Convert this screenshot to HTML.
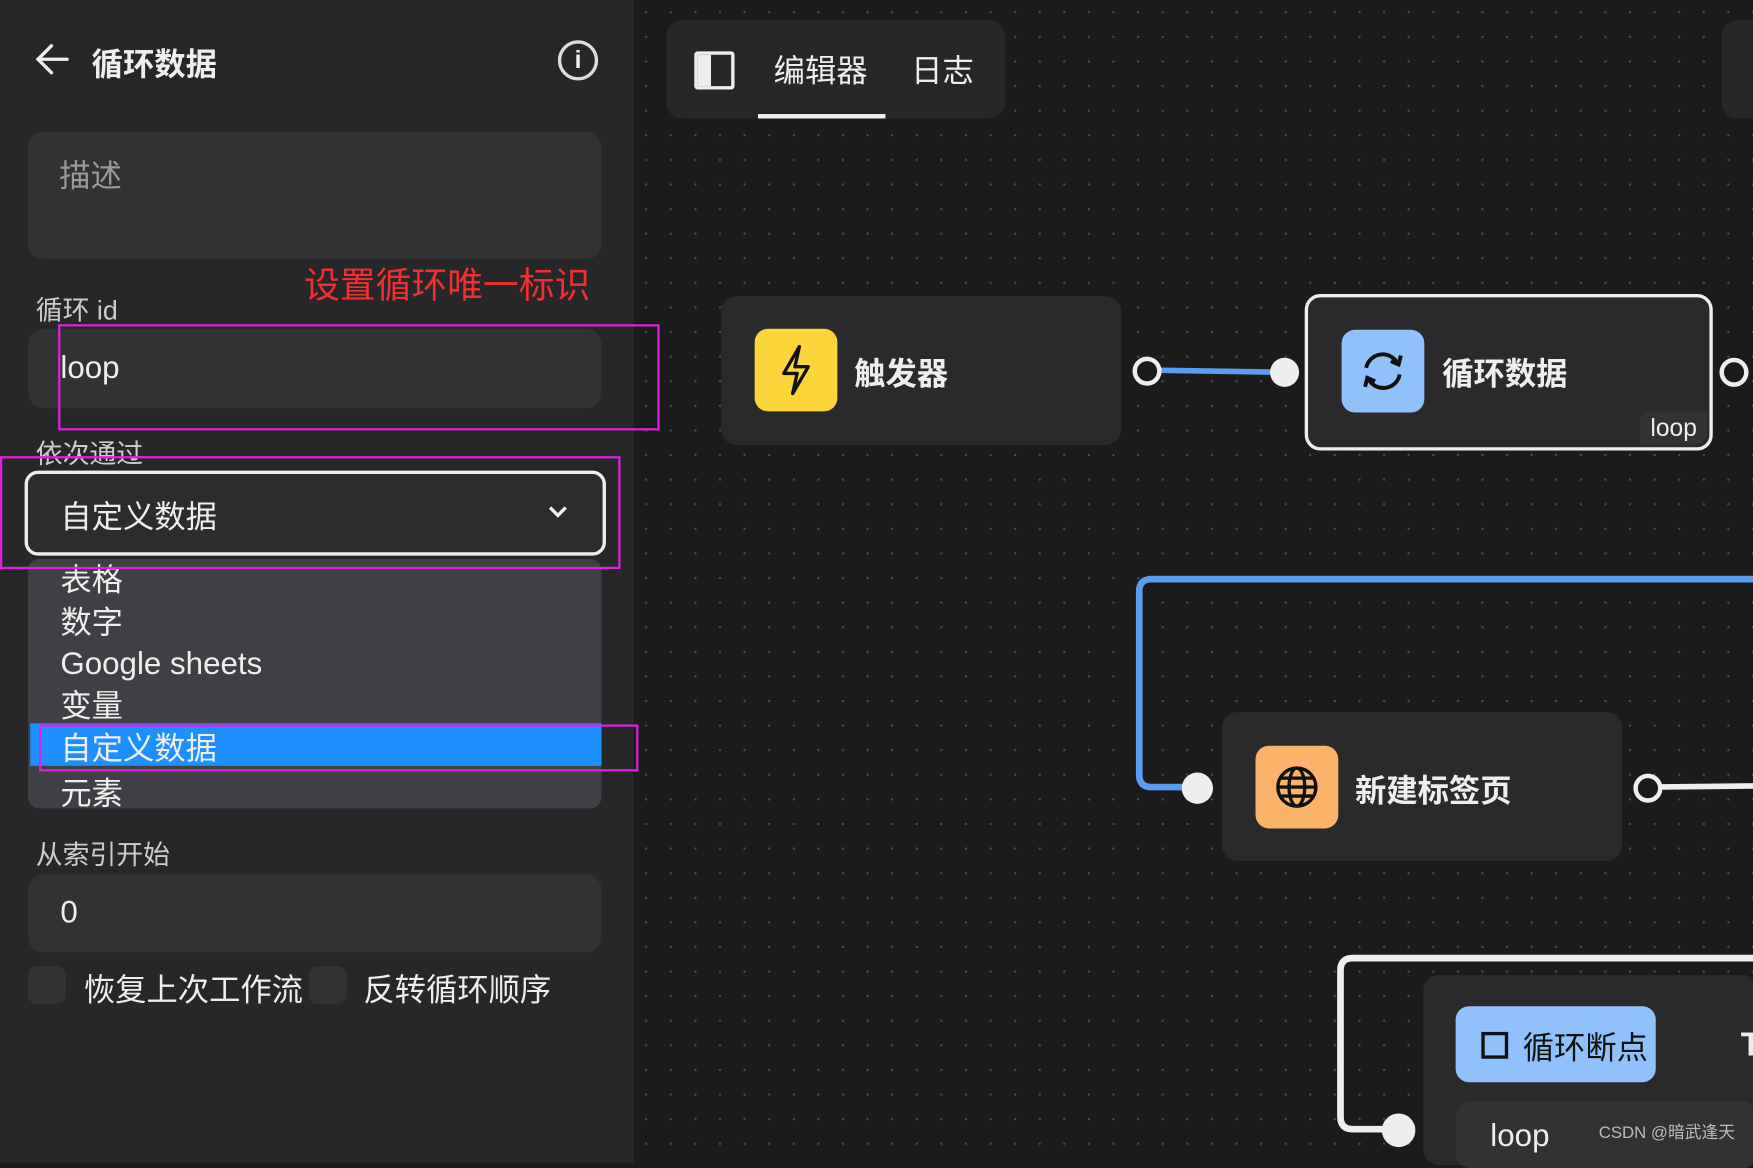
<!DOCTYPE html>
<html><head><meta charset="utf-8"><style>
html,body{margin:0;padding:0;background:#1b1b1d;overflow:hidden;width:1753px;height:1150px}
#s{position:absolute;left:0;top:0;width:1568px;height:1040px;transform:scale(1.118);transform-origin:0 0;font-family:"Liberation Sans","Noto Sans CJK SC",sans-serif;color:#eee}
.a{position:absolute}
#canvas{left:567px;top:0;width:1001px;height:1040px;background-color:#1b1b1d;background-image:radial-gradient(#4a4a4e 1px,transparent 1.2px);background-size:22px 22px}
#panel{left:0;top:0;width:567px;height:1040px;background:#27272a}
.inp{background:#323235;border-radius:14px}
.node{background:#2a2a2d;border-radius:14px}
.ic{border-radius:12px}
.dot{width:22px;height:22px;border-radius:50%;background:#eee}
.odot{width:18px;height:18px;border-radius:50%;background:#1b1b1d;border:4px solid #eee}
.pk{border:2px solid #e020e0}
</style></head><body><div id="s">
<div id="canvas" class="a"></div>
<div id="panel" class="a">
 <svg class="a" style="left:30px;top:38px" width="34" height="30"><path d="M30 15 H5 M16 3 L4 15 L16 27" stroke="#eee" stroke-width="3" fill="none" stroke-linecap="round"/></svg>
 <div class="a" style="left:82px;top:36px;font-size:28px;font-weight:bold">循环数据</div>
 <div class="a" style="left:499px;top:36px;width:30px;height:30px;border:3px solid #ddd;border-radius:50%;text-align:center;font-size:22px;line-height:30px;font-weight:bold">i</div>
 <div class="a inp" style="left:25px;top:118px;width:513px;height:114px"></div>
 <div class="a" style="left:53px;top:136px;font-size:28px;color:#999">描述</div>
 <div class="a" style="left:272px;top:230px;font-size:32px;color:#f03030">设置循环唯一标识</div>
 <div class="a" style="left:32px;top:258px;font-size:24px;color:#ccc">循环 id</div>
 <div class="a inp" style="left:25px;top:294px;width:513px;height:71px"></div>
 <div class="a" style="left:54px;top:313px;font-size:28px">loop</div>
 <div class="a" style="left:32px;top:386px;font-size:24px;color:#ccc">依次通过</div>
 <div class="a" style="left:25px;top:500px;width:513px;height:223px;background:#3f3f44;border-radius:10px"></div>
 <div class="a" style="left:22px;top:421px;width:514px;height:70px;background:#2c2c2f;border:3px solid #eee;border-radius:12px"></div>
 <div class="a" style="left:54px;top:441px;font-size:28px">自定义数据</div>
 <svg class="a" style="left:489px;top:451px" width="20" height="14"><path d="M3 3 L10 10 L17 3" stroke="#eee" stroke-width="3" fill="none"/></svg>
 <div class="a" style="left:54px;top:500px;font-size:28px;line-height:37.5px">表格<br>数字<br>Google sheets<br>变量</div>
 <div class="a" style="left:27px;top:647px;width:511px;height:38px;background:#1e8fff"></div>
 <div class="a" style="left:54px;top:648px;font-size:28px">自定义数据</div>
 <div class="a" style="left:54px;top:688px;font-size:28px">元素</div>
 <div class="a" style="left:32px;top:745px;font-size:24px;color:#ccc">从索引开始</div>
 <div class="a inp" style="left:25px;top:782px;width:513px;height:70px"></div>
 <div class="a" style="left:54px;top:800px;font-size:28px">0</div>
 <div class="a" style="left:25px;top:864px;width:34px;height:34px;background:#323235;border-radius:8px"></div>
 <div class="a" style="left:75px;top:864px;font-size:28px">恢复上次工作流</div>
 <div class="a" style="left:276px;top:864px;width:34px;height:34px;background:#323235;border-radius:8px"></div>
 <div class="a" style="left:325px;top:864px;font-size:28px">反转循环顺序</div>
</div>
<div class="a pk" style="left:52px;top:290px;width:534px;height:91px"></div>
<div class="a pk" style="left:0;top:408px;width:551px;height:97px"></div>
<div class="a pk" style="left:35px;top:648px;width:532px;height:38px"></div>
<div class="a" style="left:596px;top:18px;width:303px;height:88px;background:#27272a;border-radius:14px"></div>
<div class="a" style="left:621px;top:46px;width:30px;height:28px;border:3px solid #eee;border-radius:3px;background:linear-gradient(90deg,#eee 40%,transparent 40%)"></div>
<div class="a" style="left:692px;top:42px;font-size:28px">编辑器</div>
<div class="a" style="left:678px;top:102px;width:114px;height:4px;background:#eee"></div>
<div class="a" style="left:815px;top:42px;font-size:28px">日志</div>
<div class="a" style="left:1540px;top:18px;width:40px;height:88px;background:#27272a;border-radius:14px"></div>
<svg class="a" style="left:0;top:0" width="1568" height="1040">
 <path d="M1026 331 L1148 333" stroke="#5a9cf0" stroke-width="5" fill="none"/>
 <path d="M1070 704 L1030 704 Q1019 704 1019 693 L1019 529 Q1019 518 1030 518 L1568 518" stroke="#5a9cf0" stroke-width="6" fill="none"/>
 <path d="M1474 704 L1568 703" stroke="#eee" stroke-width="5" fill="none"/>
 <path d="M1250 1010 L1210 1010 Q1199 1010 1199 999 L1199 868 Q1199 857 1210 857 L1568 857" stroke="#eee" stroke-width="6" fill="none"/>
</svg>
<div class="a node" style="left:645px;top:265px;width:358px;height:133px"></div>
<div class="a ic" style="left:675px;top:294px;width:74px;height:74px;background:#fbd53a"></div>
<svg class="a" style="left:675px;top:294px" width="74" height="74"><path d="M40 16 L26 40 H38 L34 58 L48 34 H36 Z" stroke="#111" stroke-width="3" fill="none" stroke-linejoin="round"/></svg>
<div class="a" style="left:764px;top:313px;font-size:28px;font-weight:bold">触发器</div>
<div class="a odot" style="left:1013px;top:319px"></div>
<div class="a dot" style="left:1136px;top:320px;width:26px;height:26px"></div>
<div class="a" style="left:1167px;top:263px;width:359px;height:134px;background:#2a2a2d;border:3px solid #eee;border-radius:14px"></div>
<div class="a ic" style="left:1200px;top:295px;width:74px;height:74px;background:#8fc1fb"></div>
<svg class="a" style="left:1200px;top:295px" width="74" height="74"><path d="M22 34 A15 15 0 0 1 50 30 M52 40 A15 15 0 0 1 24 44" stroke="#111" stroke-width="3.5" fill="none"/><path d="M44 28 L51 31 L53 23 M30 46 L23 43 L21 51" stroke="#111" stroke-width="3.5" fill="none"/></svg>
<div class="a" style="left:1290px;top:313px;font-size:28px;font-weight:bold">循环数据</div>
<div class="a" style="left:1467px;top:368px;width:60px;height:30px;background:#323235;border-radius:8px 0 12px 0;font-size:22px;text-align:center;line-height:30px">loop</div>
<div class="a odot" style="left:1538px;top:320px"></div>
<div class="a node" style="left:1093px;top:637px;width:358px;height:133px"></div>
<div class="a ic" style="left:1123px;top:667px;width:74px;height:74px;background:#fbb36a"></div>
<svg class="a" style="left:1123px;top:667px" width="74" height="74"><g stroke="#111" stroke-width="3" fill="none"><circle cx="37" cy="37" r="17"/><ellipse cx="37" cy="37" rx="7" ry="17"/><path d="M20 37 H54 M23 29 H51 M23 45 H51"/></g></svg>
<div class="a" style="left:1212px;top:686px;font-size:28px;font-weight:bold">新建标签页</div>
<div class="a dot" style="left:1057px;top:691px;width:28px;height:28px"></div>
<div class="a odot" style="left:1461px;top:692px"></div>
<div class="a node" style="left:1273px;top:872px;width:300px;height:170px"></div>
<div class="a ic" style="left:1302px;top:900px;width:179px;height:68px;background:#8fc1fb"></div>
<div class="a" style="left:1325px;top:923px;width:18px;height:18px;border:3px solid #111"></div>
<div class="a" style="left:1362px;top:916px;font-size:28px;color:#111">循环断点</div>
<div class="a" style="left:1302px;top:985px;width:270px;height:60px;background:#323235;border-radius:14px"></div>
<div class="a" style="left:1333px;top:1000px;font-size:28px">loop</div>
<div class="a" style="left:1557px;top:918px;font-size:30px;font-weight:bold">T</div>
<div class="a dot" style="left:1236px;top:996px;width:30px;height:30px"></div>
<div class="a" style="left:1430px;top:1002px;font-size:15px;color:#bbb">CSDN @暗武逢天</div>
</div></body></html>
